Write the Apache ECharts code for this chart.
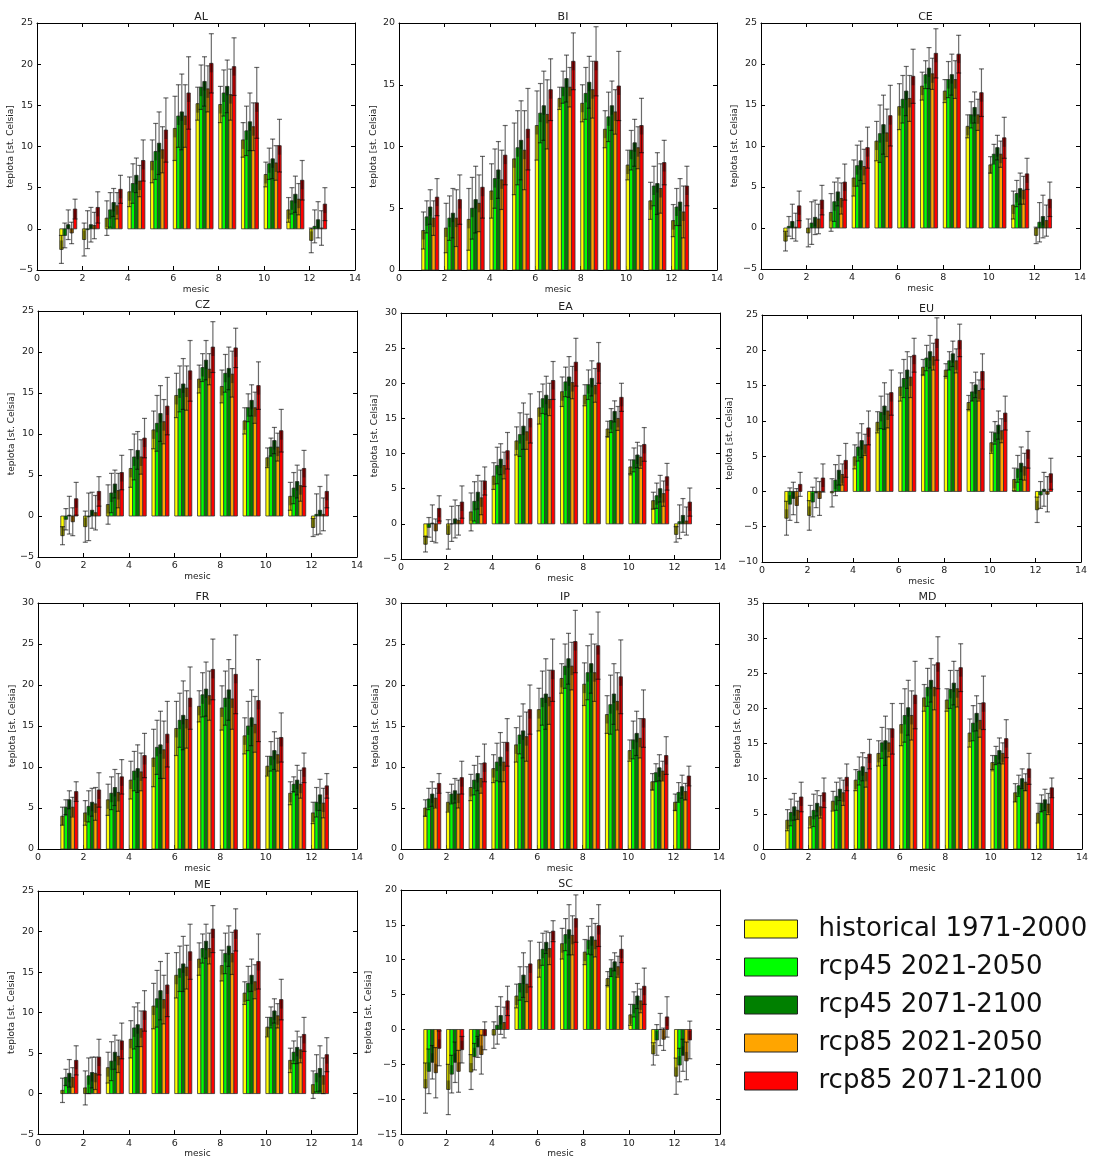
<!DOCTYPE html>
<html><head><meta charset="utf-8">
<script src="https://cdn.jsdelivr.net/npm/echarts/dist/echarts.min.js"></script>
<style>html,body{margin:0;padding:0;background:#fff;}#c{width:1094px;height:1159px;}</style>
</head><body><div id="c"></div>
<script>
// ---------- DATA ----------
const MONTHS = [1,2,3,4,5,6,7,8,9,10,11,12];
const SERIES_NAMES = ['historical 1971-2000','rcp45 2021-2050','rcp45 2071-2100','rcp85 2021-2050','rcp85 2071-2100'];
const REGIONS = ['AL','BI','CE','CZ','EA','EU','FR','IP','MD','ME','SC'];
const Y_MIN = [-5,0,-5,-5,-5,-10,0,0,0,-5,-15];
const Y_MAX = [25,20,25,25,30,25,30,30,35,25,20];
const X_TICKS = [0,2,4,6,8,10,12,14];

const AL_hist = [-2.5,-1.3,1.3,4.5,8.2,12.2,15.2,15.1,10.8,6.6,2.3,-1.4];
const AL_hist_err = [1.7,2.0,2.1,1.8,2.6,3.9,2.0,2.2,2.1,1.5,1.5,1.5];
const AL_r45a = [-0.8,-0.1,2.3,5.5,9.4,13.7,17.2,16.5,11.9,7.9,3.4,0.3];
const AL_r45a_err = [1.5,2.3,2.1,2.4,3.4,3.8,2.7,2.8,3.0,1.9,1.6,2.0];
const AL_r45b = [0.5,0.5,3.2,6.5,10.4,14.2,17.9,17.3,13.0,8.5,4.2,1.1];
const AL_r45b_err = [1.8,2.1,1.7,2.1,3.8,4.6,3.0,3.2,3.5,2.4,2.2,2.2];
const AL_r85a = [-0.5,0.4,2.8,5.8,9.6,13.7,17.0,16.3,12.4,8.0,3.6,0.1];
const AL_r85a_err = [1.3,1.6,1.6,1.9,2.8,3.8,2.8,3.1,2.9,2.1,1.9,2.1];
const AL_r85b = [2.4,2.6,4.8,8.3,12.0,16.5,20.1,19.7,15.3,10.1,5.9,3.0];
const AL_r85b_err = [1.2,1.9,1.7,2.5,3.9,4.4,3.6,3.5,4.3,3.2,2.4,2.0];

const BI_hist = [3.2,3.4,4.1,6.4,9.0,11.7,13.9,13.5,11.4,8.5,5.6,4.0];
const BI_hist_err = [1.5,2.0,2.5,2.2,2.9,2.8,0.9,1.5,1.5,1.2,1.5,1.3];
const BI_r45a = [4.3,4.2,5.0,7.4,9.9,12.7,14.8,14.3,12.4,9.7,6.8,5.1];
const BI_r45a_err = [1.3,1.8,2.5,2.4,3.0,2.4,1.3,2.1,2.0,1.6,1.6,1.5];
const BI_r45b = [5.1,4.6,5.7,8.1,10.5,13.3,15.5,15.2,13.3,10.3,7.0,5.5];
const BI_r45b_err = [1.4,2.0,2.7,2.3,3.2,2.8,1.9,2.1,2.0,1.9,2.5,1.9];
const BI_r85a = [4.2,4.2,5.4,7.3,9.7,12.6,14.8,14.6,12.8,9.9,6.6,4.7];
const BI_r85a_err = [1.4,2.3,2.3,2.4,3.2,2.8,1.6,2.3,1.8,1.7,2.0,2.1];
const BI_r85b = [5.9,5.7,6.7,9.3,11.4,14.6,16.9,16.9,14.9,11.7,8.7,6.8];
const BI_r85b_err = [1.5,2.0,2.5,2.4,3.3,2.5,2.3,2.8,2.8,2.2,1.8,1.6];

const CE_hist = [-1.6,-0.6,1.9,6.1,10.6,14.8,17.3,16.7,12.4,7.7,2.8,-0.9];
const CE_hist_err = [1.2,1.7,2.3,2.2,2.4,2.8,1.7,1.4,1.4,1.0,1.7,1.0];
const CE_r45a = [0.2,0.6,3.2,7.6,11.5,15.7,18.7,18.1,13.8,9.0,4.2,0.7];
const CE_r45a_err = [1.2,2.6,2.4,2.5,3.5,2.9,1.7,2.2,1.6,1.2,1.6,2.4];
const CE_r45b = [0.8,1.3,4.4,8.2,12.6,16.7,19.5,18.7,14.7,9.8,4.8,1.4];
const CE_r45b_err = [2.1,2.1,1.7,2.4,3.6,3.0,2.5,2.5,1.9,1.5,1.9,2.6];
const CE_r85a = [0.1,1.1,3.6,7.5,11.6,15.8,18.8,18.1,13.8,9.0,4.6,0.9];
const CE_r85a_err = [1.7,1.8,1.9,2.1,2.9,2.8,1.9,2.3,1.9,1.6,1.7,1.9];
const CE_r85b = [2.7,3.4,5.6,9.8,13.7,18.5,21.3,21.2,16.5,11.0,6.6,3.5];
const CE_r85b_err = [1.8,1.8,2.2,2.5,3.7,3.3,3.0,2.3,2.9,2.5,1.9,2.1];

const CZ_hist = [-2.4,-1.3,1.4,5.8,10.5,14.7,16.7,15.8,11.6,7.1,2.4,-1.4];
const CZ_hist_err = [1.1,1.9,2.4,2.3,2.3,2.7,1.7,2.0,1.6,1.2,1.7,1.1];
const CZ_r45a = [-0.4,-0.1,2.8,7.2,11.3,15.5,18.1,17.4,13.2,8.4,3.4,0.2];
const CZ_r45a_err = [1.3,2.9,2.4,2.8,3.4,2.8,1.7,2.3,1.7,1.1,1.9,2.5];
const CZ_r45b = [0.1,0.7,3.9,8.0,12.5,16.1,19.0,18.0,14.1,9.2,4.2,0.7];
const CZ_r45b_err = [2.3,2.2,1.7,2.3,3.4,3.1,2.4,2.6,1.9,1.6,2.0,2.9];
const CZ_r85a = [-0.7,0.4,3.1,7.2,11.5,15.6,17.9,17.3,13.2,8.4,3.7,0.2];
const CZ_r85a_err = [1.7,2.1,2.1,2.1,2.7,2.7,1.9,2.8,1.9,1.7,1.9,2.0];
const CZ_r85b = [2.1,3.0,5.3,9.5,13.4,17.7,20.6,20.5,15.9,10.4,5.8,3.0];
const CZ_r85b_err = [2.0,1.8,2.1,2.4,3.5,3.7,3.1,2.4,2.9,2.6,2.2,2.0];

const EA_hist = [-2.9,-1.5,1.7,6.8,11.8,16.5,18.8,18.3,13.5,8.1,3.3,-1.5];
const EA_hist_err = [1.1,2.1,2.7,1.9,2.0,2.3,2.1,1.5,1.1,1.0,1.2,1.1];
const EA_r45a = [-0.5,0.0,3.2,8.3,12.7,17.8,20.2,19.8,14.7,9.1,4.0,0.3];
const EA_r45a_err = [1.4,2.5,2.8,2.6,3.1,2.1,2.1,2.1,1.7,1.7,1.8,2.4];
const EA_r45b = [0.1,0.7,4.5,9.2,13.9,18.3,20.9,20.7,16.0,9.8,5.0,1.2];
const EA_r45b_err = [2.6,2.7,2.4,2.2,3.3,2.7,2.9,2.5,1.5,1.8,1.9,2.4];
const EA_r85a = [-1.0,0.5,3.7,8.3,13.1,17.7,20.1,19.7,15.0,9.5,4.3,0.4];
const EA_r85a_err = [1.7,2.1,2.4,1.9,2.5,2.3,2.3,2.4,1.7,1.6,1.8,2.0];
const EA_r85b = [2.2,3.1,6.1,10.4,15.0,20.4,23.0,22.9,18.0,11.3,6.7,3.1];
const EA_r85b_err = [1.8,2.3,2.0,2.6,3.5,2.7,3.4,2.9,2.0,2.4,1.9,2.0];

const EU_hist = [-3.8,-3.4,-0.2,4.9,9.8,14.8,17.6,17.2,12.6,6.9,1.7,-2.6];
const EU_hist_err = [2.4,2.1,2.0,1.7,1.5,2.0,1.1,0.9,1.0,1.5,1.6,1.8];
const EU_r45a = [-1.8,-1.5,1.6,6.3,11.2,16.0,18.9,18.5,14.1,8.3,3.2,-0.5];
const EU_r45a_err = [2.3,2.1,2.2,2.0,2.3,2.7,1.8,1.3,1.3,1.6,1.9,1.9];
const EU_r45b = [-1.0,-0.2,3.0,7.2,12.1,17.2,19.8,19.5,15.1,9.4,4.0,0.3];
const EU_r45b_err = [2.3,2.1,2.1,2.4,3.3,2.6,2.3,1.8,1.8,2.0,2.3,2.4];
const EU_r85a = [-2.0,-1.0,2.4,6.6,11.4,16.2,19.1,18.5,14.3,8.6,3.5,-0.4];
const EU_r85a_err = [2.4,2.4,1.5,1.5,2.4,2.9,1.9,1.7,1.5,1.7,1.9,2.5];
const EU_r85b = [1.0,1.9,4.4,9.0,14.0,19.3,21.6,21.4,17.0,11.1,5.9,2.5];
const EU_r85b_err = [1.7,2.0,2.4,2.4,3.2,2.4,3.0,2.3,2.5,2.4,2.6,2.2];

const FR_hist = [4.0,4.4,6.0,8.4,11.1,14.7,17.4,17.2,13.8,10.1,6.8,4.4];
const FR_hist_err = [1.1,1.5,1.9,2.3,3.5,3.3,1.9,2.7,2.2,1.2,1.4,1.3];
const FR_r45a = [5.1,5.2,6.8,9.5,12.4,15.7,18.8,18.4,15.0,11.3,7.9,5.7];
const FR_r45a_err = [0.9,1.9,2.0,2.4,3.3,3.3,2.7,3.3,3.0,1.8,0.9,1.8];
const FR_r45b = [6.0,5.7,7.5,9.8,12.7,16.3,19.5,19.4,16.0,12.0,8.4,6.6];
const FR_r45b_err = [1.1,1.7,2.2,2.9,4.1,4.2,3.3,3.7,3.4,2.3,1.8,1.9];
const FR_r85a = [5.1,5.5,6.9,9.4,12.1,15.8,18.7,18.3,15.2,11.5,7.9,5.6];
const FR_r85a_err = [1.2,2.0,2.3,2.3,3.5,3.5,3.0,3.7,3.4,2.0,1.7,1.8];
const FR_r85b = [7.0,7.2,8.8,11.4,14.0,18.4,21.9,21.3,18.1,13.6,9.9,7.7];
const FR_r85b_err = [1.2,2.1,2.1,2.7,4.0,3.8,3.7,4.8,5.0,3.0,1.8,1.5];

const IP_hist = [5.0,5.7,7.5,9.8,12.7,17.0,20.8,20.1,16.4,12.0,8.2,5.7];
const IP_hist_err = [1.0,1.2,1.6,1.7,2.1,2.6,1.8,2.6,2.3,1.3,1.0,1.0];
const IP_r45a = [6.1,6.7,8.4,10.6,13.9,18.4,22.3,21.5,17.6,13.3,9.3,6.9];
const IP_r45a_err = [1.3,1.2,1.8,2.3,2.3,3.3,2.7,3.3,3.6,2.3,1.1,1.2];
const IP_r45b = [6.7,7.1,9.2,11.2,14.4,18.9,23.2,22.6,18.9,14.1,9.9,7.6];
const IP_r45b_err = [1.5,1.5,2.1,3.0,3.3,4.3,3.1,3.6,3.7,2.7,1.6,1.4];
const IP_r85a = [6.2,6.7,8.6,10.6,13.7,18.5,22.3,21.5,18.0,13.5,9.5,7.0];
const IP_r85a_err = [1.2,1.7,1.8,2.4,3.0,3.3,2.9,3.5,3.5,2.4,1.2,1.0];
const IP_r85b = [8.0,8.7,10.5,13.0,17.0,21.8,25.3,24.8,21.0,15.9,11.4,8.9];
const IP_r85b_err = [1.2,2.0,2.3,2.9,3.0,3.8,3.8,4.1,4.5,3.5,2.3,1.2];

const MD_hist = [4.1,4.6,6.8,9.8,13.6,17.7,21.5,21.2,16.5,12.3,8.0,5.1];
const MD_hist_err = [1.5,1.6,1.4,1.5,1.8,3.0,1.9,1.6,2.0,1.0,1.3,1.4];
const MD_r45a = [5.2,5.5,7.5,11.1,15.1,19.0,23.0,22.7,17.9,13.3,9.0,6.5];
const MD_r45a_err = [1.9,2.3,2.0,2.0,2.2,3.8,2.7,2.7,2.5,1.3,1.5,1.2];
const MD_r45b = [6.0,6.5,8.5,11.7,15.4,20.1,24.0,23.6,19.3,14.0,10.0,7.0];
const MD_r45b_err = [1.9,1.8,1.6,2.0,3.5,3.9,3.1,3.1,2.5,1.8,1.4,1.5];
const MD_r85a = [5.5,6.0,8.0,10.9,15.1,19.0,23.0,22.8,18.3,13.6,9.5,6.4];
const MD_r85a_err = [1.3,1.6,1.8,2.1,2.0,3.5,3.2,2.6,2.4,1.5,1.2,1.5];
const MD_r85b = [7.4,8.0,10.2,13.5,17.1,21.9,26.5,25.8,20.8,15.7,11.4,8.7];
const MD_r85b_err = [2.1,2.1,1.9,2.1,3.6,4.8,3.7,3.4,3.8,2.7,2.2,1.4];

const ME_hist = [0.4,0.7,3.2,6.7,10.8,14.6,16.6,15.8,12.4,8.2,4.1,1.1];
const ME_hist_err = [1.5,2.1,1.9,2.3,2.8,2.8,2.0,1.9,1.4,1.2,1.5,1.7];
const ME_r45a = [2.0,2.2,4.0,8.1,11.7,15.4,17.9,17.3,13.6,9.4,5.1,2.5];
const ME_r45a_err = [1.0,2.2,2.4,2.6,3.5,2.8,1.8,2.5,2.1,1.3,1.4,2.3];
const ME_r45b = [2.5,2.6,5.1,8.5,12.7,16.0,18.8,18.2,14.6,10.2,5.7,3.1];
const ME_r45b_err = [1.7,1.9,2.1,2.7,3.6,3.4,2.1,2.5,2.0,1.5,2.0,2.8];
const ME_r85a = [2.0,2.5,4.6,8.0,11.6,15.6,17.9,17.3,13.8,9.6,5.4,2.2];
const ME_r85a_err = [1.2,2.0,2.0,2.2,3.0,2.7,1.9,2.6,2.1,1.5,1.6,2.2];
const ME_r85b = [4.1,4.5,6.5,10.2,13.4,17.5,20.3,20.2,16.3,11.6,7.3,4.8];
const ME_r85b_err = [1.8,2.2,2.2,2.5,3.9,3.4,2.9,2.6,3.4,2.5,2.1,2.1];

const SC_hist = [-8.4,-8.6,-6.1,-0.8,4.8,10.0,12.3,11.1,7.3,2.1,-3.5,-6.7];
const SC_hist_err = [3.6,3.6,2.5,1.9,1.7,2.5,2.2,1.8,1.0,1.5,1.6,2.6];
const SC_r45a = [-6.0,-6.4,-3.9,0.6,6.6,11.5,13.6,12.8,8.8,3.6,-1.5,-5.1];
const SC_r45a_err = [3.2,2.7,1.9,2.7,2.4,2.3,2.3,2.0,1.2,1.8,2.2,2.4];
const SC_r45b = [-4.7,-4.7,-2.5,2.0,7.8,12.5,14.3,13.3,9.7,4.8,0.0,-3.7];
const SC_r45b_err = [2.4,2.9,1.5,2.7,3.2,1.6,3.6,2.6,1.3,1.8,2.3,2.3];
const SC_r85a = [-6.2,-6.0,-3.6,1.0,6.5,11.6,13.5,12.8,9.0,4.1,-1.4,-4.5];
const SC_r85a_err = [3.6,3.0,2.8,2.2,2.5,2.3,2.8,2.4,1.5,1.7,1.6,2.7];
const SC_r85b = [-2.7,-2.9,-0.9,4.1,9.4,14.1,15.9,14.9,11.5,6.2,1.8,-1.5];
const SC_r85b_err = [2.5,1.9,2.0,2.1,3.3,1.5,3.4,3.0,1.9,2.6,2.9,2.7];

// ---------- ASSEMBLY ----------
const REGION_SERIES = {
  AL: [[AL_hist,AL_hist_err],[AL_r45a,AL_r45a_err],[AL_r45b,AL_r45b_err],[AL_r85a,AL_r85a_err],[AL_r85b,AL_r85b_err]],
  BI: [[BI_hist,BI_hist_err],[BI_r45a,BI_r45a_err],[BI_r45b,BI_r45b_err],[BI_r85a,BI_r85a_err],[BI_r85b,BI_r85b_err]],
  CE: [[CE_hist,CE_hist_err],[CE_r45a,CE_r45a_err],[CE_r45b,CE_r45b_err],[CE_r85a,CE_r85a_err],[CE_r85b,CE_r85b_err]],
  CZ: [[CZ_hist,CZ_hist_err],[CZ_r45a,CZ_r45a_err],[CZ_r45b,CZ_r45b_err],[CZ_r85a,CZ_r85a_err],[CZ_r85b,CZ_r85b_err]],
  EA: [[EA_hist,EA_hist_err],[EA_r45a,EA_r45a_err],[EA_r45b,EA_r45b_err],[EA_r85a,EA_r85a_err],[EA_r85b,EA_r85b_err]],
  EU: [[EU_hist,EU_hist_err],[EU_r45a,EU_r45a_err],[EU_r45b,EU_r45b_err],[EU_r85a,EU_r85a_err],[EU_r85b,EU_r85b_err]],
  FR: [[FR_hist,FR_hist_err],[FR_r45a,FR_r45a_err],[FR_r45b,FR_r45b_err],[FR_r85a,FR_r85a_err],[FR_r85b,FR_r85b_err]],
  IP: [[IP_hist,IP_hist_err],[IP_r45a,IP_r45a_err],[IP_r45b,IP_r45b_err],[IP_r85a,IP_r85a_err],[IP_r85b,IP_r85b_err]],
  MD: [[MD_hist,MD_hist_err],[MD_r45a,MD_r45a_err],[MD_r45b,MD_r45b_err],[MD_r85a,MD_r85a_err],[MD_r85b,MD_r85b_err]],
  ME: [[ME_hist,ME_hist_err],[ME_r45a,ME_r45a_err],[ME_r45b,ME_r45b_err],[ME_r85a,ME_r85a_err],[ME_r85b,ME_r85b_err]],
  SC: [[SC_hist,SC_hist_err],[SC_r45a,SC_r45a_err],[SC_r45b,SC_r45b_err],[SC_r85a,SC_r85a_err],[SC_r85b,SC_r85b_err]]
};

// ---------- LAYOUT & STYLE ----------
const COLORS = ['#ffff00','#00ff00','#008000','#ffa500','#ff0000'];
const GRID_BOX = [ // left, top, width, height
  [37,23,318,247],[399,23,318,247],[761,23,319,246],
  [38,311,319,246],[401,313,319,246],[762,315,319,247],
  [38,603,319,246],[401,603,318,246],[763,603,319,246],
  [38,891,319,248],[401,890,319,248]
];
const BAR_W = 0.15;
const FONT = 'DejaVu Sans';
const TXT = '#222';
const ERR_COLOR = 'rgba(0,0,0,0.58)';
const SHADE = 'rgba(0,0,0,0.38)';
const SHADE_PX = 9;

const minus = v => String(v).replace('-', '\u2212');

const grid = [], xAxis = [], yAxis = [], title = [], series = [];
REGIONS.forEach((reg, g) => {
  const [l, t, w, h] = GRID_BOX[g];
  grid.push({left: l, top: t, width: w, height: h, show: false, containLabel: false});
  title.push({text: reg, left: l + w / 2, top: t - 16, textAlign: 'center',
    textStyle: {fontFamily: FONT, fontSize: 11, fontWeight: 'normal', color: TXT}});
  xAxis.push({
    gridIndex: g, type: 'value', position: 'bottom', min: X_TICKS[0], max: X_TICKS[X_TICKS.length - 1], interval: 2,
    axisLine: {show: true, onZero: false, lineStyle: {color: '#000', width: 1}},
    axisTick: {show: true, inside: true, length: 4, lineStyle: {color: '#000'}},
    splitLine: {show: false},
    name: 'mesic', nameLocation: 'middle', nameGap: 12,
    nameTextStyle: {fontFamily: FONT, fontSize: 9, color: TXT},
    axisLabel: {show: true, margin: 4, fontFamily: FONT, fontSize: 9.5, color: TXT, formatter: minus}});
  yAxis.push({
    gridIndex: g, type: 'value', position: 'left', min: Y_MIN[g], max: Y_MAX[g], interval: 5,
    axisLine: {show: true, onZero: false, lineStyle: {color: '#000', width: 1}},
    axisTick: {show: true, inside: true, length: 4, lineStyle: {color: '#000'}},
    splitLine: {show: false},
    name: 'teplota [st. Celsia]', nameLocation: 'middle', nameGap: 21,
    nameTextStyle: {fontFamily: FONT, fontSize: 9, color: TXT},
    axisLabel: {show: true, margin: 4, fontFamily: FONT, fontSize: 9.5, color: TXT, formatter: minus}});
});
// mirror axes (top / right) for the boxed frame with inside ticks
REGIONS.forEach((reg, g) => {
  xAxis.push({gridIndex: g, type: 'value', position: 'top', min: X_TICKS[0], max: X_TICKS[X_TICKS.length - 1], interval: 2,
    axisLine: {show: true, onZero: false, lineStyle: {color: '#000', width: 1}},
    axisTick: {show: true, inside: true, length: 4, lineStyle: {color: '#000'}},
    axisLabel: {show: false}, splitLine: {show: false}});
  yAxis.push({gridIndex: g, type: 'value', position: 'right', min: Y_MIN[g], max: Y_MAX[g], interval: 5,
    axisLine: {show: true, onZero: false, lineStyle: {color: '#000', width: 1}},
    axisTick: {show: true, inside: true, length: 4, lineStyle: {color: '#000'}},
    axisLabel: {show: false}, splitLine: {show: false}});
});

function makeRender(k) {
  return function (params, api) {
    const m = api.value(0), v = api.value(1), e = api.value(2);
    const xl = m + BAR_W * k, xr = xl + BAR_W, xc = xl + BAR_W / 2;
    const p0 = api.coord([xl, 0]), p1 = api.coord([xr, v]);
    const top = api.coord([xc, v + e]), bot = api.coord([xc, v - e]);
    const cw = 2.5;
    const bx = p0[0], bw = p1[0] - p0[0];
    const by = Math.min(p0[1], p1[1]), bh = Math.abs(p1[1] - p0[1]);
    const sh = Math.min(SHADE_PX, bh);
    const sy = v >= 0 ? by : by + bh - sh;
    return {
      type: 'group',
      children: [
        {type: 'rect', shape: {x: bx, y: by, width: bw, height: bh}, style: {fill: COLORS[k], stroke: null}},
        {type: 'rect', shape: {x: bx, y: sy, width: bw, height: sh}, style: {fill: SHADE, stroke: null}},
        {type: 'rect', shape: {x: bx, y: by, width: bw, height: bh}, style: {fill: null, stroke: '#333', lineWidth: 0.8}},
        {type: 'line', shape: {x1: top[0], y1: top[1], x2: bot[0], y2: bot[1]}, style: {stroke: ERR_COLOR, lineWidth: 1.2}},
        {type: 'line', shape: {x1: top[0] - cw, y1: top[1], x2: top[0] + cw, y2: top[1]}, style: {stroke: ERR_COLOR, lineWidth: 1.2}},
        {type: 'line', shape: {x1: bot[0] - cw, y1: bot[1], x2: bot[0] + cw, y2: bot[1]}, style: {stroke: ERR_COLOR, lineWidth: 1.2}}
      ]
    };
  };
}

REGIONS.forEach((reg, g) => {
  REGION_SERIES[reg].forEach(([vals, errs], k) => {
    series.push({
      type: 'custom', name: SERIES_NAMES[k], xAxisIndex: g, yAxisIndex: g,
      itemStyle: {color: COLORS[k], borderColor: '#000', borderWidth: 1},
      renderItem: makeRender(k),
      encode: {x: 0, y: 1},
      data: MONTHS.map((m, i) => [m, vals[i], errs[i]])
    });
  });
});

const chart = echarts.init(document.getElementById('c'), null, {renderer: 'canvas'});
chart.setOption({
  animation: false,
  backgroundColor: '#fff',
  title, grid, xAxis, yAxis, series,
  legend: {
    data: SERIES_NAMES, orient: 'vertical', left: 744, top: 916, padding: 0,
    icon: 'rect', itemWidth: 53, itemHeight: 18, itemGap: 12,
    itemStyle: {borderColor: '#222', borderWidth: 1},
    selectedMode: false,
    textStyle: {fontFamily: FONT, fontSize: 26, color: '#111', lineHeight: 26, padding: [0, 0, 0, 16]}
  }
});
</script></body></html>
